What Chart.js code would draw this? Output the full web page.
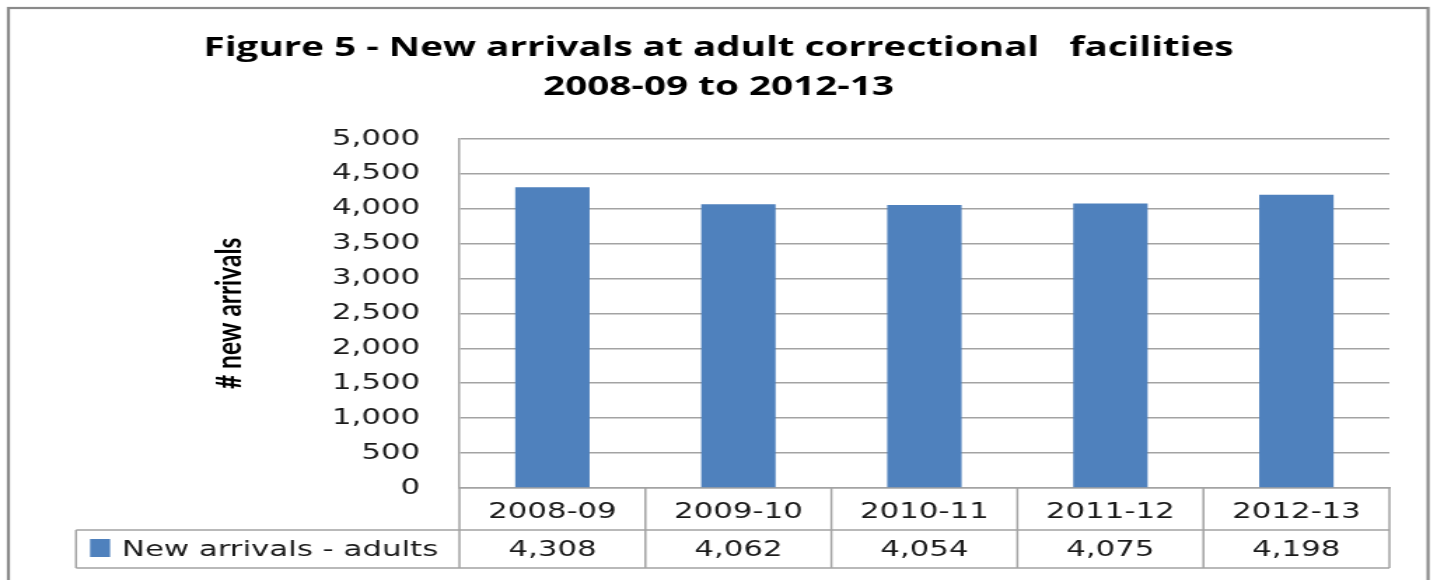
<!DOCTYPE html>
<html>
<head>
<meta charset="utf-8">
<script src="https://cdn.jsdelivr.net/npm/chart.js@4"></script>
<style>
  html, body { margin: 0; padding: 0; background: #fff; overflow: hidden; }
  /* the source picture is stretched sideways, so the chart is drawn narrow and widened */
  #wrap { width: 1026px; height: 580px; transform: scaleX(1.4006); transform-origin: 0 0; }
</style>
</head>
<body>
<div id="wrap"><canvas id="chart"></canvas></div>
<script>
const categories = ['2008-09', '2009-10', '2010-11', '2011-12', '2012-13'];
const arrivals = [4308, 4062, 4054, 4075, 4198];
const seriesLabel = 'New arrivals - adults';
const titleLines = ['Figure 5 - New arrivals at adult correctional   facilities', '2008-09 to 2012-13'];
const yTitle = '# new arrivals';

const BAR = '#4F81BD';
const LINE = '#a3a3a3';
const TXT = '#1a1a1a';
const fmt = v => Number(v).toLocaleString('en-US');

// data table under the axis, plus the outer frame
const tablePlugin = {
  id: 'tablePlugin',
  afterDraw(chart) {
    const ctx = chart.ctx, x = chart.scales.x, area = chart.chartArea;
    const row1 = 530, row2 = 568, tableLeft = 54.3;
    ctx.save();
    ctx.strokeStyle = LINE;
    ctx.lineWidth = 1.5;
    ctx.beginPath();
    ctx.moveTo(tableLeft, row1); ctx.lineTo(area.right, row1);
    ctx.moveTo(tableLeft, row2); ctx.lineTo(area.right, row2);
    ctx.moveTo(tableLeft, row1); ctx.lineTo(tableLeft, row2);
    for (let i = 0; i <= categories.length; i++) {
      const bx = x.getPixelForValue(i - 0.5);
      ctx.moveTo(bx, area.bottom); ctx.lineTo(bx, row2);
    }
    ctx.stroke();

    ctx.font = '22px "DejaVu Sans"';
    ctx.fillStyle = TXT;
    ctx.textAlign = 'center';
    ctx.textBaseline = 'middle';
    const ds = chart.data.datasets[0];
    ds.data.forEach((v, i) => ctx.fillText(fmt(v), x.getPixelForValue(i), (row1 + row2) / 2 + 1));

    ctx.fillStyle = ds.backgroundColor;
    ctx.fillRect(64.3, 539, 14.3, 18);
    ctx.fillStyle = TXT;
    ctx.textAlign = 'left';
    ctx.fillText(ds.label, 87, (row1 + row2) / 2 + 1);

    ctx.strokeStyle = '#8a8a8a';
    ctx.lineWidth = 2.2;
    ctx.strokeRect(6, 8, 1013.6, 600);
    ctx.restore();
  }
};

new Chart(document.getElementById('chart'), {
  type: 'bar',
  data: {
    labels: categories,
    datasets: [{ label: seriesLabel, data: arrivals, backgroundColor: BAR, categoryPercentage: 1, barPercentage: 0.4 }]
  },
  options: {
    responsive: true, maintainAspectRatio: false, animation: false,
    layout: { padding: { left: 34, right: 34, top: 0, bottom: 0 } },
    plugins: {
      legend: { display: false },
      tooltip: { enabled: false },
      title: {
        display: true, text: titleLines, color: '#000',
        font: { family: 'Open Sans', size: 27.6, weight: 'bold', lineHeight: 1.41 },
        padding: { top: 29, bottom: 32 }
      }
    },
    scales: {
      x: {
        grid: { display: false },
        border: { display: true, color: LINE, width: 1.5 },
        ticks: { color: TXT, font: { family: 'DejaVu Sans', size: 22 }, padding: 3, maxRotation: 0 },
        afterFit: s => { s.height = 92; }
      },
      y: {
        min: 0, max: 5000,
        grid: { color: LINE, lineWidth: 1.5, drawTicks: false },
        border: { display: true, color: LINE, width: 1.5 },
        ticks: { stepSize: 500, color: TXT, padding: 28, font: { family: 'DejaVu Sans', size: 22 }, callback: v => fmt(v) },
        title: {
          display: true, text: yTitle, color: '#000',
          font: { family: 'Lato', size: 24.5, weight: 'bold' },
          padding: { top: 115, bottom: 0 }
        },
        afterFit: s => { s.width = 294; }
      }
    }
  },
  plugins: [tablePlugin]
});
</script>
</body>
</html>
